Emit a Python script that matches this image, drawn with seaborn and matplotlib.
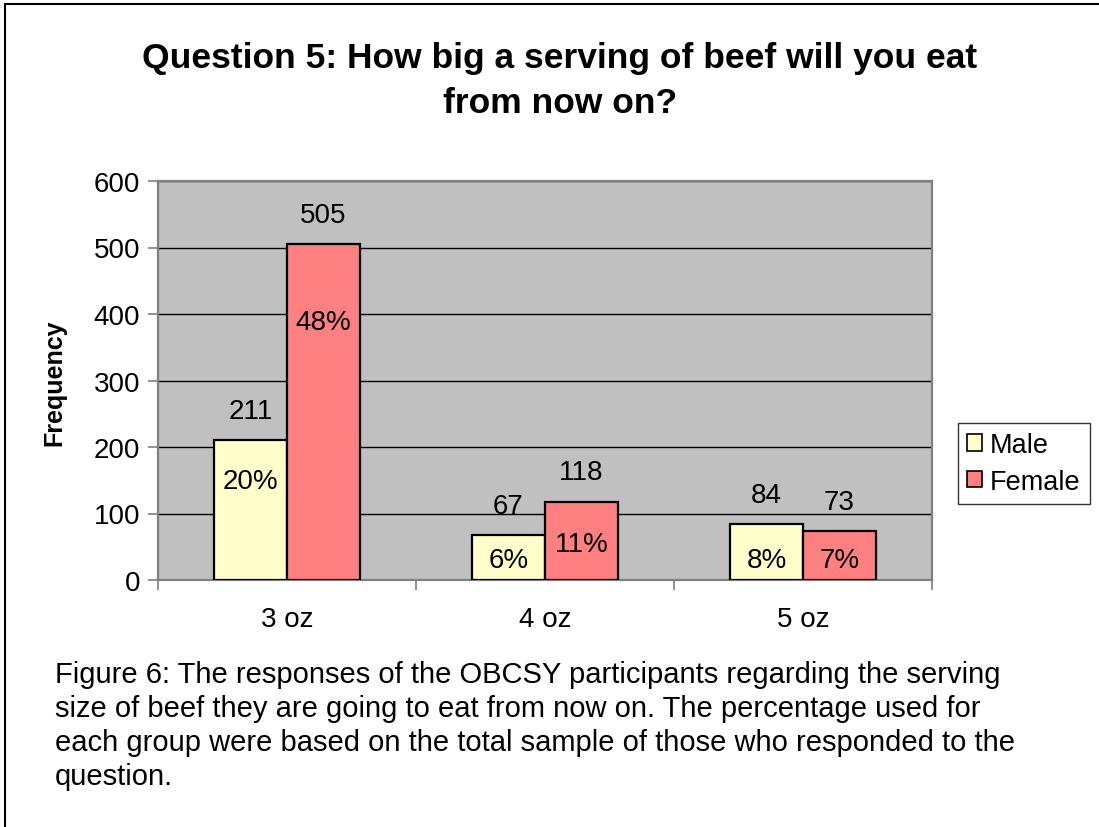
import matplotlib
matplotlib.use("Agg")
import matplotlib.pyplot as plt
import seaborn as sns
import pandas as pd
from matplotlib.patches import Patch
from matplotlib.lines import Line2D

# Survey responses: serving size of beef from now on
sizes = ["3 oz", "4 oz", "5 oz"]
groups = ["Male", "Female"]
male_counts = [211, 67, 84]
female_counts = [505, 118, 73]
male_pct = [20, 6, 8]
female_pct = [48, 11, 7]

colors = {"Male": "#FFFFCC", "Female": "#FF8080"}

df = pd.DataFrame({
    "size": sizes * 2,
    "group": ["Male"] * 3 + ["Female"] * 3,
    "count": male_counts + female_counts,
})

sns.set_theme(style="white")
plt.rcParams["font.family"] = ["Liberation Sans", "DejaVu Sans"]
plt.rcParams["text.color"] = "black"
plt.rcParams["axes.labelcolor"] = "black"
plt.rcParams["xtick.color"] = "black"
plt.rcParams["ytick.color"] = "black"

W, H = 1099, 828
fig = plt.figure(figsize=(W / 100, H / 100), dpi=100)
fig.patch.set_facecolor("white")

ax = fig.add_axes([158 / W, 1 - 581 / H, (932 - 158) / W, (581 - 182) / H])
ax.set_facecolor("#C0C0C0")

bar_width = 0.566
sns.barplot(data=df, x="size", y="count", hue="group", hue_order=groups,
            order=sizes, palette=colors, width=bar_width, gap=0,
            edgecolor="black", linewidth=1.6, saturation=1,
            legend=False, ax=ax, zorder=3)

ax.set_xlim(-0.5, 2.5)
ax.set_ylim(0, 600)
ax.set_yticks(range(0, 601, 100))
ax.yaxis.grid(True, color="black", linewidth=1.0, zorder=1)
ax.xaxis.grid(False)
ax.set_axisbelow(True)

FS = 20

# category boundaries carry the tick marks, names sit between them
ax.set_xticks([-0.5, 0.5, 1.5, 2.5])
ax.set_xticklabels([])
ax.set_xticks([0, 1, 2], minor=True)
ax.set_xticklabels(sizes, minor=True)
ax.tick_params(axis="x", which="major", direction="out", length=7, width=1.2,
               color="#808080", bottom=True)
ax.tick_params(axis="x", which="minor", length=0, pad=19, labelsize=FS,
               labelcolor="black")
ax.tick_params(axis="y", direction="out", length=7, width=1.2, color="#808080",
               left=True, labelsize=FS, labelcolor="black", pad=6)

for side in ["left", "bottom", "top", "right"]:
    ax.spines[side].set_visible(True)
    ax.spines[side].set_color("#808080")
    ax.spines[side].set_linewidth(1.6)

ax.set_xlabel("")
ax.set_ylabel("Frequency", fontsize=18, fontweight="bold")
ax.yaxis.set_label_coords((66 - 158) / 774, (581 - 383) / 399)

# value and share labels
half = bar_width / 2
male_pct_y = [149, 30, 30]
female_pct_y = [388, 54, 30]
for i in range(len(sizes)):
    xm = i - half / 2
    xf = i + half / 2
    ax.annotate(str(male_counts[i]), (xm, male_counts[i]), xytext=(0, 21),
                textcoords="offset points", ha="center", va="center", fontsize=FS)
    ax.annotate(str(female_counts[i]), (xf, female_counts[i]), xytext=(0, 21),
                textcoords="offset points", ha="center", va="center", fontsize=FS)
    ax.text(xm, male_pct_y[i], f"{male_pct[i]}%", ha="center", va="center",
            fontsize=FS, zorder=5)
    ax.text(xf, female_pct_y[i], f"{female_pct[i]}%", ha="center", va="center",
            fontsize=FS, zorder=5)

# title
fig.text(560 / W, 1 - 81 / H,
         "Question 5: How big a serving of beef will you eat\nfrom now on?",
         ha="center", va="center", fontsize=25.5, fontweight="bold",
         linespacing=1.45)

# legend
handles = [Patch(facecolor=colors[g], edgecolor="black", linewidth=1.2, label=g)
           for g in groups]
leg = fig.legend(handles=handles, loc="upper left",
                 bbox_to_anchor=(958 / W, 1 - 424 / H),
                 bbox_transform=fig.transFigure, borderaxespad=0,
                 fontsize=19.5, frameon=True, fancybox=False,
                 handlelength=0.55, handleheight=0.55, handletextpad=0.3,
                 labelspacing=0.4, borderpad=0.33)
leg.get_frame().set_edgecolor("black")
leg.get_frame().set_linewidth(1.0)

# caption
caption = ("Figure 6: The responses of the OBCSY participants regarding the serving\n"
           "size of beef they are going to eat from now on. The percentage used for\n"
           "each group were based on the total sample of those who responded to the\n"
           "question.")
fig.text(55 / W, 1 - 726 / H, caption, ha="left", va="center", fontsize=21,
         linespacing=1.27)

# page frame edges
fig.add_artist(Line2D([5 / W, 5 / W], [0, 1 - 5 / H], transform=fig.transFigure,
                      color="black", linewidth=1.5))
fig.add_artist(Line2D([5 / W, 1], [1 - 5 / H, 1 - 5 / H], transform=fig.transFigure,
                      color="black", linewidth=1.5))

fig.savefig("out.png", dpi=100, facecolor="white")
